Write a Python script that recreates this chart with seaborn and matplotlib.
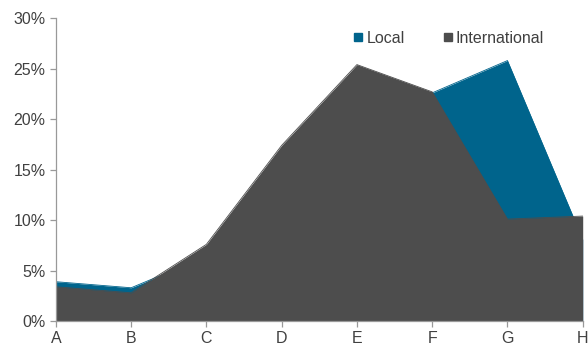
import matplotlib
matplotlib.use("Agg")
import matplotlib.pyplot as plt
import seaborn as sns
import pandas as pd
import numpy as np
from matplotlib.lines import Line2D
from matplotlib.ticker import PercentFormatter

categories = ["A", "B", "C", "D", "E", "F", "G", "H"]
local = [3.9, 3.3, 6.4, 14.0, 20.0, 22.6, 25.8, 8.1]
international = [3.4, 2.8, 7.6, 17.4, 25.4, 22.7, 10.1, 10.4]

df = pd.DataFrame({"cat": categories, "Local": local, "International": international})
df["x"] = np.arange(len(categories))

sns.set_theme(style="ticks")
plt.rcParams["font.family"] = ["Liberation Sans", "DejaVu Sans"]

c_local = "#00648c"
c_intl = "#4d4d4d"
txt = "#404040"

fig = plt.figure(figsize=(5.88, 3.49), dpi=100)
ax = fig.add_axes([0.095, 0.080, 0.896, 0.868])

sns.lineplot(data=df, x="x", y="Local", color=c_local, lw=0.6, ax=ax, zorder=1)
ax.fill_between(df["x"], 0, df["Local"], color=c_local, lw=0, zorder=1.5)
ax.fill_between(df["x"], 0, df["International"], color=c_intl, lw=0, zorder=2)
sns.lineplot(data=df, x="x", y="International", color=c_intl, lw=0.6, ax=ax, zorder=2.5)

ax.set_xlim(0, len(categories) - 1)
ax.set_ylim(0, 30)
ax.set_xticks(df["x"])
ax.set_xticklabels(categories)
ax.set_yticks(np.arange(0, 31, 5))
ax.yaxis.set_major_formatter(PercentFormatter(decimals=0))
ax.set_xlabel("")
ax.set_ylabel("")

for s in ["top", "right"]:
    ax.spines[s].set_visible(False)
for s in ["left", "bottom"]:
    ax.spines[s].set_color("#999999")
    ax.spines[s].set_linewidth(0.9)
    ax.spines[s].set_zorder(3)
ax.tick_params(axis="both", colors="#999999", labelcolor=txt, labelsize=11.5, length=4, width=0.9)

handles = [
    Line2D([], [], marker="s", ls="", color=c_local, markersize=6),
    Line2D([], [], marker="s", ls="", color=c_intl, markersize=6),
]
ax.legend(handles, ["Local", "International"], loc="upper left", bbox_to_anchor=(0.535, 1.005),
          ncol=2, frameon=False, fontsize=11.5, handletextpad=0.1, columnspacing=2.3,
          labelcolor=txt, handlelength=0.8)

fig.savefig("out.png", dpi=100)
